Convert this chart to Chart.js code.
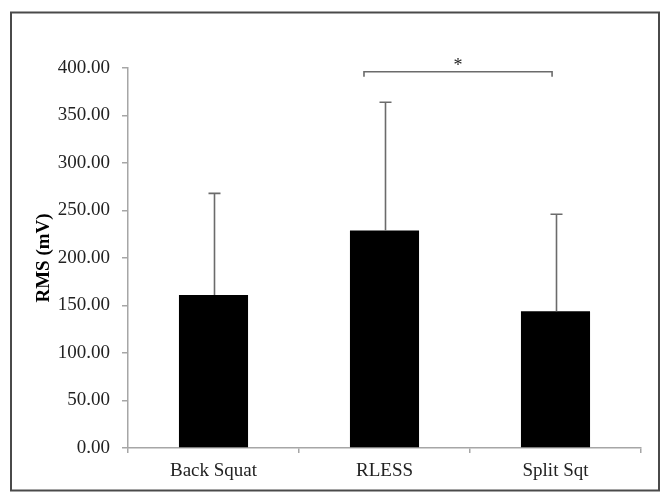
<!DOCTYPE html>
<html>
<head>
<meta charset="utf-8">
<script src="https://cdn.jsdelivr.net/npm/chart.js@4"></script>
<style>
html,body{margin:0;padding:0;background:#fff;}
#wrap{width:672px;height:504px;position:relative;}
</style>
</head>
<body>
<div id="wrap"><canvas id="c" width="672" height="504"></canvas></div>
<script>
const categories = ["Back Squat", "RLESS", "Split Sqt"];
const meanRMS = [161, 229, 144];
const sdRMS = [107, 135, 102];
const yTicks = [0, 50, 100, 150, 200, 250, 300, 350, 400];
const sigPair = [1, 2];
const sigLevel = 396;
const sigLabel = "*";

const FONT = "'Liberation Serif', 'Times New Roman', serif";

const extras = {
  id: 'extras',
  afterDatasetsDraw(chart) {
    const ctx = chart.ctx;
    const x = chart.scales.x, y = chart.scales.y;
    const meta = chart.getDatasetMeta(0);
    ctx.save();
    // error bars (upper only)
    ctx.strokeStyle = '#6b6b6b';
    ctx.lineWidth = 1.6;
    meta.data.forEach((bar, i) => {
      const cx = Math.round(bar.x) + 0.5;
      const y0 = y.getPixelForValue(meanRMS[i]);
      const y1 = y.getPixelForValue(meanRMS[i] + sdRMS[i]);
      ctx.beginPath();
      ctx.moveTo(cx, y0);
      ctx.lineTo(cx, y1);
      ctx.moveTo(cx - 6, y1);
      ctx.lineTo(cx + 6, y1);
      ctx.stroke();
    });
    // significance bracket
    const catW = x.getPixelForValue(1) - x.getPixelForValue(0);
    const xl = x.getPixelForValue(sigPair[0]) - catW * 0.12;
    const xr = x.getPixelForValue(sigPair[1]) - catW * 0.02;
    const yb = y.getPixelForValue(sigLevel);
    ctx.strokeStyle = '#6b6b6b';
    ctx.lineWidth = 1.6;
    ctx.beginPath();
    ctx.moveTo(xl, yb + 5);
    ctx.lineTo(xl, yb);
    ctx.lineTo(xr, yb);
    ctx.lineTo(xr, yb + 5);
    ctx.stroke();
    ctx.fillStyle = '#222';
    ctx.font = "18px " + FONT;
    ctx.textAlign = 'center';
    ctx.textBaseline = 'middle';
    ctx.fillText(sigLabel, (xl + xr) / 2, yb - 6);
    ctx.restore();
  },
  afterDraw(chart) {
    const ctx = chart.ctx;
    ctx.save();
    ctx.strokeStyle = '#4a4a4a';
    ctx.lineWidth = 2;
    ctx.strokeRect(11, 12.5, 648, 478);
    ctx.restore();
  }
};

new Chart(document.getElementById('c'), {
  type: 'bar',
  data: {
    labels: categories,
    datasets: [{
      data: meanRMS,
      backgroundColor: '#000',
      borderWidth: 0,
      barPercentage: 0.404,
      categoryPercentage: 1.0
    }]
  },
  options: {
    responsive: false,
    animation: false,
    devicePixelRatio: 1,
    layout: { padding: { left: 0, right: 31, top: 68, bottom: 0 } },
    plugins: { legend: { display: false }, tooltip: { enabled: false } },
    scales: {
      x: {
        grid: { display: true, drawOnChartArea: false, offset: true, tickLength: 5, color: '#a6a6a6', lineWidth: 1.5 },
        border: { color: '#a6a6a6', width: 1.5 },
        ticks: { color: '#222', font: { family: FONT, size: 19 }, padding: 7 },
        afterFit(s) { s.height = 56; }
      },
      y: {
        min: 0, max: 400,
        afterBuildTicks(s) { s.ticks = yTicks.map(v => ({ value: v })); },
        grid: { display: true, drawOnChartArea: false, tickLength: 6, color: '#a6a6a6', lineWidth: 1.5 },
        border: { color: '#a6a6a6', width: 1.5 },
        ticks: { color: '#222', font: { family: FONT, size: 19 }, padding: 12,
                 callback: v => Number(v).toFixed(2) },
        title: { display: true, text: 'RMS (mV)', color: '#000',
                 font: { family: FONT, size: 19, weight: 'bold' }, padding: { top: 33, bottom: 0 } },
        afterFit(s) { s.width = 128; }
      }
    }
  },
  plugins: [extras]
});
</script>
</body>
</html>
